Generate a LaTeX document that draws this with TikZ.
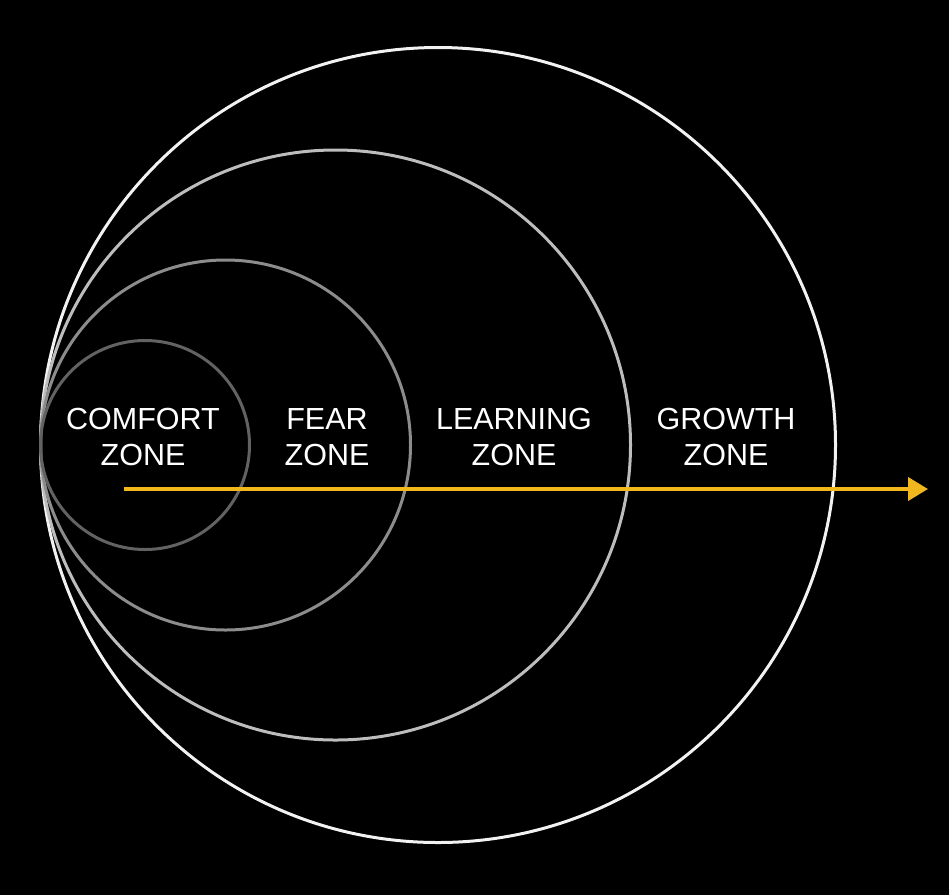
\documentclass[tikz,border=0pt]{standalone}
\usepackage{fontspec}
\setmainfont{Liberation Sans}
\usetikzlibrary{arrows.meta}
\definecolor{arrowyellow}{HTML}{F2B71C}
\definecolor{ringA}{HTML}{F2F2F2}
\definecolor{ringB}{HTML}{BDBDBD}
\definecolor{ringC}{HTML}{8C8C8C}
\definecolor{ringD}{HTML}{626262}
\begin{document}
\begin{tikzpicture}[x=1pt,y=-1pt,
  ring/.style={line width=3pt},
  zonelabel/.style={text=white, align=center, inner sep=0pt, anchor=base,
    font=\fontsize{30.5}{36}\selectfont}]
\fill[black] (0,0) rectangle (949,895);
\useasboundingbox (0,0) rectangle (949,895);
\draw[ring, ringA] (438,445) circle[radius=397.5];
\draw[ring, ringB] (335.5,445) circle[radius=295];
\draw[ring, ringC] (225.5,445) circle[radius=185];
\draw[ring, ringD] (145,445) circle[radius=104.5];
\node[zonelabel] (comfort) at (143,465) {COMFORT\\ZONE};
\node[zonelabel] (fear) at (327,465) {FEAR\\ZONE};
\node[zonelabel] (learning) at (514,465) {LEARNING\\ZONE};
\node[zonelabel] (growth) at (726,465) {GROWTH\\ZONE};
\coordinate (start) at (124,489);
\coordinate (end) at (928,489);
\draw[arrowyellow, line width=4pt, -{Triangle[length=20pt,width=23pt]}] (start) -- (end);
\end{tikzpicture}
\end{document}
